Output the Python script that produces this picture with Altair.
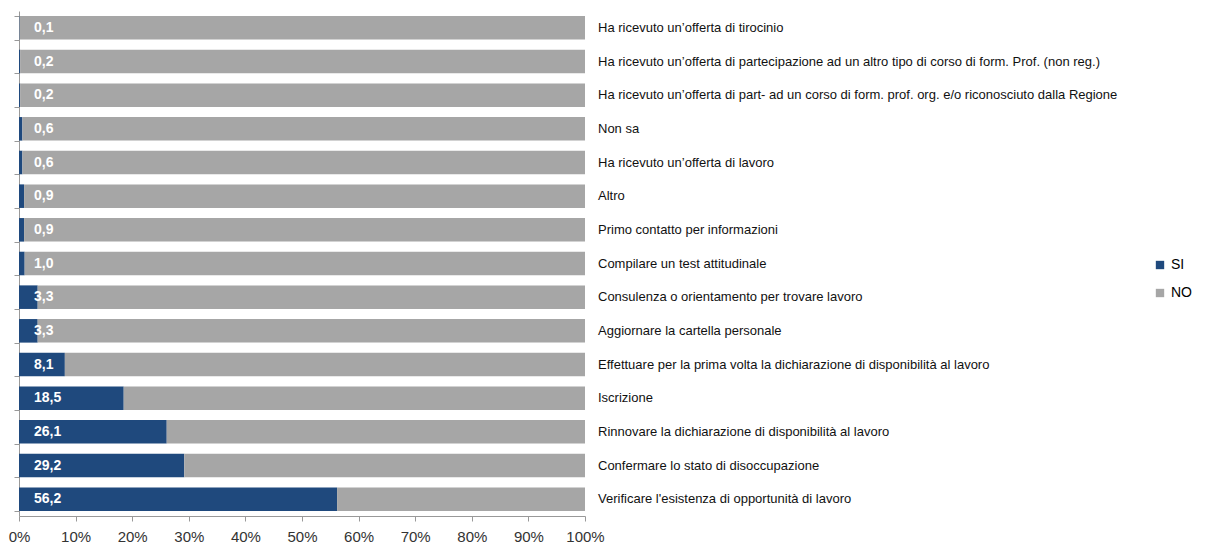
import altair as alt
import pandas as pd

categories = [
    " Ha ricevuto un’offerta  di tirocinio",
    "Ha ricevuto un’offerta  di partecipazione  ad un altro tipo di corso di form. Prof. (non reg.)",
    "Ha ricevuto un’offerta  di part- ad un corso di form. prof. org. e/o riconosciuto  dalla Regione",
    "Non sa",
    "Ha ricevuto un’offerta  di lavoro",
    " Altro",
    "Primo contatto per informazioni",
    "Compilare un test attitudinale",
    "Consulenza o orientamento per trovare lavoro",
    "Aggiornare la cartella personale",
    "Effettuare per la prima volta la dichiarazione di disponibilità al lavoro",
    "Iscrizione",
    " Rinnovare la dichiarazione di disponibilità al lavoro",
    "Confermare lo stato di disoccupazione",
    "Verificare  l'esistenza  di opportunità  di lavoro",
]
si_values = [0.1, 0.2, 0.2, 0.6, 0.6, 0.9, 0.9, 1.0, 3.3, 3.3, 8.1, 18.5, 26.1, 29.2, 56.2]
si_labels = ["0,1", "0,2", "0,2", "0,6", "0,6", "0,9", "0,9", "1,0", "3,3", "3,3",
             "8,1", "18,5", "26,1", "29,2", "56,2"]
series = ["SI", "NO"]
colors = ["#1F497D", "#A6A6A6"]

rows = []
for c, v in zip(categories, si_values):
    rows.append({"cat": c, "serie": "SI", "val": v, "ord": 0})
    rows.append({"cat": c, "serie": "NO", "val": round(100 - v, 1), "ord": 1})
df = pd.DataFrame(rows)
lab_df = pd.DataFrame({"cat": categories, "lab": si_labels})

y_enc = alt.Y(
    "cat:N", sort=categories,
    scale=alt.Scale(paddingInner=0.3, paddingOuter=0.15),
    axis=alt.Axis(labels=False, title=None, ticks=True, tickSize=5, tickBand="extent",
                  domainColor="#999999", tickColor="#999999"),
)

bars = alt.Chart(df).mark_bar().encode(
    x=alt.X("val:Q", stack="zero",
            scale=alt.Scale(domain=[0, 100], nice=False),
            axis=alt.Axis(values=list(range(0, 101, 10)), labelExpr="datum.value + '%'",
                          title=None, grid=False, tickSize=5, labelFontSize=15,
                          labelFlush=False, labelOverlap=False,
                          labelColor="#333333", domainColor="#999999", tickColor="#999999",
                          labelPadding=8, labelFont="Liberation Sans")),
    y=y_enc,
    color=alt.Color("serie:N", scale=alt.Scale(domain=series, range=colors),
                    legend=alt.Legend(title=None, orient="none", legendX=1134, legendY=247,
                                      symbolType="square", symbolSize=70, labelFontSize=14,
                                      labelFont="Liberation Sans", rowPadding=14,
                                      labelOffset=4, symbolStrokeWidth=0)),
    order=alt.Order("ord:Q"),
)

vals = alt.Chart(lab_df).mark_text(
    align="left", baseline="middle", dx=15, color="white", fontWeight="bold",
    fontSize=14, font="Liberation Sans"
).encode(x=alt.datum(0), y=alt.Y("cat:N", sort=categories), text="lab:N")

cats = alt.Chart(lab_df).mark_text(
    align="left", baseline="middle", dx=13, color="#111111",
    fontSize=13, font="Liberation Sans"
).encode(x=alt.datum(100), y=alt.Y("cat:N", sort=categories), text="cat:N")

chart = alt.layer(bars, vals, cats).properties(
    width=566, height=505,
    autosize=alt.AutoSizeParams(type="none"),
    padding={"left": 11, "top": 3, "right": 620, "bottom": 30},
).configure_view(stroke=None)

chart.save("out.html", embed_options={"renderer": "svg", "actions": False})
